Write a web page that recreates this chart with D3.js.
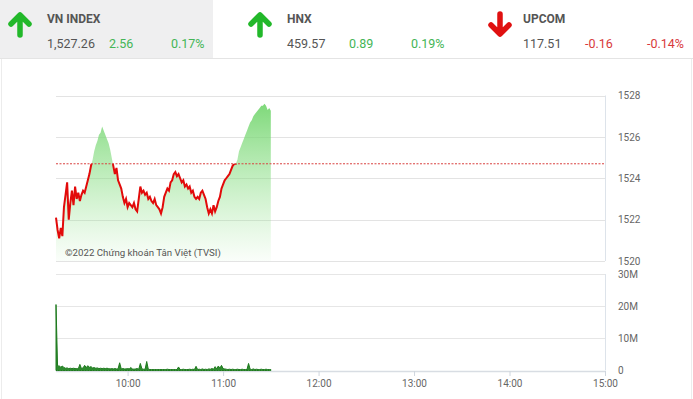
<!DOCTYPE html>
<html>
<head>
<meta charset="utf-8">
<script src="https://cdn.jsdelivr.net/npm/d3@7"></script>
<style>
  body { margin: 0; background: #fff; font-family: Roboto, "Noto Sans", sans-serif; }
  svg text { font-family: Roboto, "Noto Sans", sans-serif; }
</style>
</head>
<body>
<svg width="693" height="399"></svg>
<script>
// header boards
var boardNames = ["VN INDEX", "HNX", "UPCOM"];
var boardValues = ["1,527.26", "459.57", "117.51"];
var boardChanges = ["2.56", "0.89", "-0.16"];
var boardPercents = ["0.17%", "0.19%", "-0.14%"];

// intraday VN-Index, one point per minute from 09:15 to 11:30
var startTime = "09:15";
var prices = [
  1522.1,1521.5,1521.1,1521.6,1521.2,1522.6,1523.2,1523.8,1522.0,1522.8,
  1523.4,1522.7,1523.6,1523.0,1523.3,1522.9,1523.2,1523.4,1523.3,1523.6,
  1523.9,1524.2,1524.6,1524.9,1525.3,1525.6,1525.8,1526.1,1526.2,1526.5,
  1526.3,1526.1,1525.9,1525.7,1525.4,1525.0,1524.6,1524.2,1524.5,1523.9,
  1523.7,1523.5,1523.1,1522.8,1523.0,1522.6,1522.8,1522.7,1522.6,1522.8,
  1522.5,1522.4,1523.0,1523.6,1523.3,1523.4,1523.2,1523.3,1523.0,1523.1,
  1522.9,1522.8,1523.0,1522.7,1522.6,1522.5,1522.3,1522.6,1523.1,1523.3,
  1523.5,1523.4,1523.8,1523.9,1524.2,1524.3,1524.1,1524.2,1524.0,1523.8,
  1523.9,1523.6,1523.7,1523.5,1523.6,1523.3,1523.4,1523.1,1523.0,1523.1,
  1523.0,1523.3,1523.4,1523.2,1523.0,1522.6,1522.3,1522.5,1522.3,1522.7,
  1522.4,1522.6,1522.9,1523.1,1523.5,1523.7,1523.9,1524.0,1524.1,1524.2,
  1524.4,1524.6,1524.7,1524.7,1524.9,1525.3,1525.5,1525.7,1525.9,1526.1,
  1526.3,1526.5,1526.7,1526.8,1527.0,1527.1,1527.2,1527.3,1527.4,1527.5,
  1527.5,1527.6,1527.5,1527.3,1527.4,1527.26
];
// matched volume per minute (shares)
var volumes = [
  20.5e6,1.2e6,1.5e6,1.0e6,1.4e6,0.9e6,0.7e6,0.8e6,0.6e6,0.7e6,
  0.6e6,0.7e6,0.6e6,0.6e6,0.5e6,1.9e6,0.6e6,0.8e6,1.6e6,0.9e6,
  1.5e6,1.0e6,1.2e6,0.8e6,0.9e6,0.7e6,0.8e6,0.6e6,0.7e6,0.6e6,
  0.7e6,0.6e6,0.7e6,0.6e6,0.5e6,0.6e6,0.5e6,0.6e6,0.5e6,0.5e6,
  2.4e6,0.5e6,0.6e6,0.5e6,0.5e6,0.6e6,0.5e6,0.9e6,0.5e6,0.4e6,
  0.5e6,0.6e6,0.4e6,2.2e6,0.5e6,0.4e6,0.4e6,2.8e6,0.4e6,0.3e6,
  0.3e6,0.3e6,0.3e6,0.3e6,0.3e6,0.3e6,0.3e6,0.3e6,0.3e6,0.3e6,
  0.4e6,0.3e6,0.3e6,0.3e6,0.3e6,0.3e6,0.3e6,1.1e6,0.3e6,0.3e6,
  0.4e6,0.3e6,0.3e6,0.3e6,0.4e6,0.3e6,0.4e6,0.3e6,1.3e6,0.3e6,
  0.4e6,0.3e6,0.5e6,0.3e6,0.4e6,0.3e6,0.5e6,0.4e6,0.6e6,0.4e6,
  1.2e6,0.5e6,1.4e6,0.7e6,1.6e6,0.6e6,0.5e6,0.4e6,0.3e6,0.4e6,
  0.3e6,0.4e6,0.3e6,0.3e6,0.4e6,0.3e6,0.3e6,0.4e6,0.3e6,0.3e6,
  0.3e6,2.2e6,0.4e6,0.3e6,0.5e6,0.3e6,0.4e6,0.3e6,0.3e6,0.4e6,
  0.3e6,0.3e6,0.4e6,0.3e6,0.3e6,0.3e6
];
var refPrice = 1524.70;
var priceTicks = [1520, 1522, 1524, 1526, 1528];
var volTicks = [0, 10e6, 20e6, 30e6];
var timeTicks = ["10:00", "11:00", "12:00", "13:00", "14:00", "15:00"];

function main() {
  var svg = d3.select("svg");
  var parse = d3.timeParse("%H:%M");
  var t0 = parse(startTime);
  var data = prices.map(function(p, i) {
    return { t: d3.timeMinute.offset(t0, i), p: p, v: volumes[i] };
  });

  var x = d3.scaleTime().domain([t0, parse("15:00")]).range([56, 605]);
  var y = d3.scaleLinear().domain([1520, 1528]).range([261, 95.5]);
  var yv = d3.scaleLinear().domain([0, 30e6]).range([370.5, 274]);

  // ---- header ----
  svg.append("rect").attr("x", 0).attr("y", 0).attr("width", 213).attr("height", 58).attr("fill", "#efeff0");
  svg.append("line").attr("x1", 0).attr("x2", 693).attr("y1", 58.5).attr("y2", 58.5).attr("stroke", "#e4e4e4");
  svg.append("line").attr("x1", 1.5).attr("x2", 1.5).attr("y1", 59).attr("y2", 399).attr("stroke", "#ececec");
  svg.append("line").attr("x1", 691.5).attr("x2", 691.5).attr("y1", 59).attr("y2", 399).attr("stroke", "#ececec");

  var colX = [0, 240, 476];
  boardNames.forEach(function(name, i) {
    var up = boardChanges[i].charAt(0) !== "-";
    var c = up ? "#22b82a" : "#e01010";
    var tc = up ? "#44b556" : "#d8393b";
    var g = svg.append("g").attr("transform", "translate(" + colX[i] + ",0)");
    var ax = i === 2 ? 24 : 20;
    if (up) {
      g.append("path").attr("d", "M" + ax + ",35V16M" + (ax - 9) + ",24L" + ax + ",15L" + (ax + 9) + ",24")
        .attr("fill", "none").attr("stroke", c).attr("stroke-width", 5.5)
        .attr("stroke-linecap", "round").attr("stroke-linejoin", "round");
    } else {
      g.append("path").attr("d", "M" + ax + ",14V33M" + (ax - 9) + ",25L" + ax + ",34L" + (ax + 9) + ",25")
        .attr("fill", "none").attr("stroke", c).attr("stroke-width", 5.5)
        .attr("stroke-linecap", "round").attr("stroke-linejoin", "round");
    }
    var tx = 47;
    g.append("text").attr("x", tx).attr("y", 22.5).attr("font-size", 12).attr("font-weight", "bold")
      .attr("fill", "#555").text(name);
    g.append("text").attr("x", tx).attr("y", 47.5).attr("font-size", 12.5).attr("fill", "#555").text(boardValues[i]);
    g.append("text").attr("x", tx + 62).attr("y", 47.5).attr("font-size", 12.5).attr("fill", tc).text(boardChanges[i]);
    g.append("text").attr("x", tx + 124).attr("y", 47.5).attr("font-size", 12.5).attr("fill", tc).text(boardPercents[i]);
  });

  // ---- price panel ----
  var grid = svg.append("g");
  priceTicks.forEach(function(v) {
    grid.append("line").attr("x1", 56).attr("x2", 605).attr("y1", Math.round(y(v)) + 0.5).attr("y2", Math.round(y(v)) + 0.5)
      .attr("stroke", "#e3e3e3");
  });
  grid.append("line").attr("x1", 605.5).attr("x2", 605.5).attr("y1", y(1528)).attr("y2", y(1520)).attr("stroke", "#dde3ea");

  var defs = svg.append("defs");
  var grad = defs.append("linearGradient").attr("id", "gfill").attr("gradientUnits", "userSpaceOnUse")
    .attr("x1", 0).attr("x2", 0).attr("y1", y(1528)).attr("y2", y(1520));
  grad.append("stop").attr("offset", 0).attr("stop-color", "#6fd46a").attr("stop-opacity", 0.95);
  grad.append("stop").attr("offset", 1).attr("stop-color", "#9be596").attr("stop-opacity", 0.05);

  defs.append("clipPath").attr("id", "below").append("rect")
    .attr("x", 0).attr("width", 693).attr("y", y(refPrice)).attr("height", 261 - y(refPrice));

  svg.append("path").datum(data)
    .attr("fill", "url(#gfill)")
    .attr("d", d3.area().x(function(d) { return x(d.t); }).y0(y(1520)).y1(function(d) { return y(d.p); }));

  svg.append("path").datum(data)
    .attr("fill", "none").attr("stroke", "#e20a0a").attr("stroke-width", 2)
    .attr("clip-path", "url(#below)")
    .attr("d", d3.line().x(function(d) { return x(d.t); }).y(function(d) { return y(d.p); }));

  svg.append("line").attr("x1", 56).attr("x2", 605).attr("y1", y(refPrice)).attr("y2", y(refPrice))
    .attr("stroke", "#d9413f").attr("stroke-width", 1).attr("stroke-dasharray", "2,1.5");

  svg.append("g").attr("transform", "translate(605,0)")
    .call(d3.axisRight(y).tickValues(priceTicks).tickSize(0).tickPadding(13).tickFormat(d3.format("d")))
    .call(function(g) {
      g.select(".domain").remove();
      g.selectAll("text").attr("font-size", 10).attr("fill", "#666").attr("font-family", "Roboto");
    });

  svg.append("text").attr("x", 65).attr("y", 256).attr("font-size", 9.7).attr("fill", "#555")
    .text("©2022 Chứng khoán Tân Việt (TVSI)");

  // ---- volume panel ----
  volTicks.forEach(function(v) {
    svg.append("line").attr("x1", 56).attr("x2", 605).attr("y1", Math.round(yv(v)) + 0.5).attr("y2", Math.round(yv(v)) + 0.5)
      .attr("stroke", v === 0 ? "#d8dde3" : "#e6e6e6").attr("stroke-width", v === 0 ? 1.5 : 1);
  });
  svg.append("line").attr("x1", 605.5).attr("x2", 605.5).attr("y1", yv(30e6)).attr("y2", yv(0)).attr("stroke", "#dde3ea");

  svg.append("path").datum(data)
    .attr("fill", "#2e8b2e").attr("stroke", "#1f7a1f").attr("stroke-width", 1)
    .attr("d", d3.area().x(function(d) { return x(d.t); }).y0(yv(0)).y1(function(d) { return yv(d.v); }));

  svg.append("g").attr("transform", "translate(605,0)")
    .call(d3.axisRight(yv).tickValues(volTicks).tickSize(0).tickPadding(13)
      .tickFormat(function(d) { return d === 0 ? "0" : (d / 1e6) + "M"; }))
    .call(function(g) {
      g.select(".domain").remove();
      g.selectAll("text").attr("font-size", 10).attr("fill", "#666").attr("font-family", "Roboto");
    });

  svg.append("g").attr("transform", "translate(0," + (yv(0) + 0.5) + ")")
    .call(d3.axisBottom(x).tickValues(timeTicks.map(parse)).tickSize(5).tickPadding(4).tickFormat(d3.timeFormat("%H:%M")))
    .call(function(g) {
      g.select(".domain").remove();
      g.selectAll("line").attr("stroke", "#cfd6de");
      g.selectAll("text").attr("font-size", 10).attr("fill", "#666").attr("font-family", "Roboto");
    });
}
main();
</script>
</body>
</html>
